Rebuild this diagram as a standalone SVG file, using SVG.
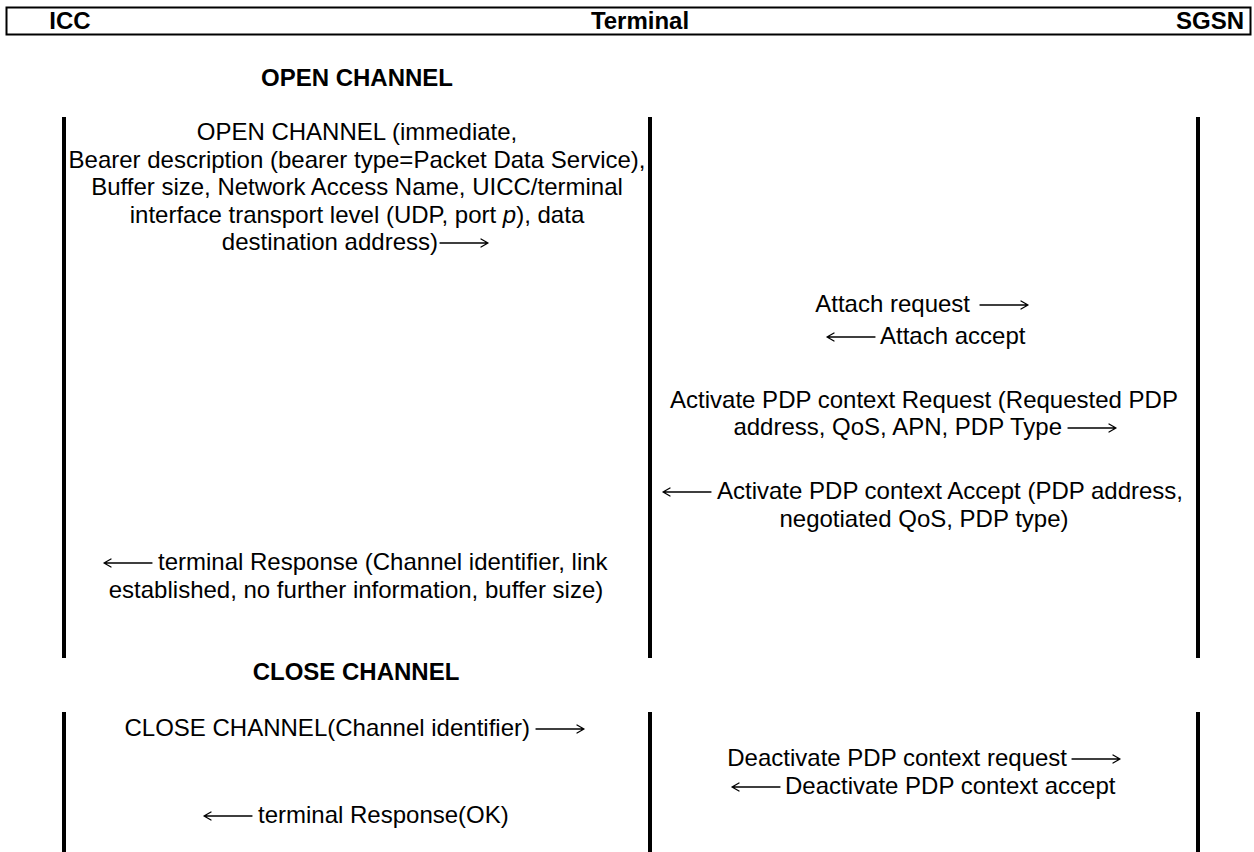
<svg xmlns="http://www.w3.org/2000/svg" width="1254" height="852" viewBox="0 0 1254 852">
<style>
  .hd { font-family: "Liberation Sans", Arial, sans-serif; font-weight: bold; font-size: 24px; fill: #000; text-anchor: middle; }
  .t { font-family: "Liberation Sans", Arial, sans-serif; font-size: 24px; fill: #000; }
  .c { text-anchor: middle; }
  .s { text-anchor: start; }
  .e { text-anchor: end; }
  .life { stroke: #000; stroke-width: 4; fill: none; }
  .arr { stroke: #000; stroke-width: 1.3; fill: none; stroke-linecap: round; stroke-linejoin: round; }
</style>
<rect width="1254" height="852" fill="#fff"/>

<g id="header">
  <rect x="6.5" y="7.5" width="1244" height="27" fill="none" stroke="#000" stroke-width="2"/>
  <text class="hd" x="70" y="29">ICC</text>
  <text class="hd" x="640" y="29">Terminal</text>
  <text class="hd" x="1210" y="29">SGSN</text>
</g>

<g id="lifeline-icc">
  <line class="life" x1="64" y1="117" x2="64" y2="658"/>
  <line class="life" x1="64" y1="712" x2="64" y2="852"/>
</g>
<g id="lifeline-terminal">
  <line class="life" x1="650" y1="117" x2="650" y2="658"/>
  <line class="life" x1="650" y1="712" x2="650" y2="852"/>
</g>
<g id="lifeline-sgsn">
  <line class="life" x1="1198" y1="117" x2="1198" y2="658"/>
  <line class="life" x1="1198" y1="712" x2="1198" y2="852"/>
</g>

<g id="section-open">
  <text class="hd" x="357" y="86">OPEN CHANNEL</text>
</g>
<g id="section-close">
  <text class="hd" x="356" y="680">CLOSE CHANNEL</text>
</g>

<g id="msg-open-channel">
  <text class="t c" x="357" y="140">OPEN CHANNEL (immediate,</text>
  <text class="t c" x="357" y="168">Bearer description (bearer type=Packet Data Service),</text>
  <text class="t c" x="357" y="195">Buffer size, Network Access Name, UICC/terminal</text>
  <text class="t c" x="357" y="223">interface transport level (UDP, port <tspan font-style="italic">p</tspan>), data</text>
  <text class="t e" x="438" y="250">destination address)</text>
</g>
<g id="msg-attach-request">
  <text class="t e" x="970" y="312">Attach request</text>
</g>
<g id="msg-attach-accept">
  <text class="t s" x="880" y="344">Attach accept</text>
</g>
<g id="msg-activate-request">
  <text class="t c" x="924" y="408">Activate PDP context Request (Requested PDP</text>
  <text class="t e" x="1062" y="435">address, QoS, APN, PDP Type</text>
</g>
<g id="msg-activate-accept">
  <text class="t s" x="717" y="499">Activate PDP context Accept (PDP address,</text>
  <text class="t c" x="924" y="527">negotiated QoS, PDP type)</text>
</g>
<g id="msg-terminal-response">
  <text class="t s" x="158" y="570">terminal Response (Channel identifier, link</text>
  <text class="t c" x="356" y="598">established, no further information, buffer size)</text>
</g>
<g id="msg-close-channel">
  <text class="t e" x="530" y="736">CLOSE CHANNEL(Channel identifier)</text>
</g>
<g id="msg-deactivate-request">
  <text class="t e" x="1067" y="766">Deactivate PDP context request</text>
</g>
<g id="msg-deactivate-accept">
  <text class="t s" x="785" y="794">Deactivate PDP context accept</text>
</g>
<g id="msg-terminal-response-ok">
  <text class="t s" x="258" y="823">terminal Response(OK)</text>
</g>

<g id="connectors">
  <path class="arr" d="M440 243 H488 M481 239 L488 243 L481 247"/>
  <path class="arr" d="M980 305 H1028 M1021 301 L1028 305 L1021 309"/>
  <path class="arr" d="M875 337 H827 M834 333 L827 337 L834 341"/>
  <path class="arr" d="M1068 428 H1116 M1109 424 L1116 428 L1109 432"/>
  <path class="arr" d="M711 492 H663 M670 488 L663 492 L670 496"/>
  <path class="arr" d="M152 563 H104 M111 559 L104 563 L111 567"/>
  <path class="arr" d="M536 729 H584 M577 725 L584 729 L577 733"/>
  <path class="arr" d="M1072 759 H1120 M1113 755 L1120 759 L1113 763"/>
  <path class="arr" d="M780 787 H732 M739 783 L732 787 L739 791"/>
  <path class="arr" d="M252 816 H204 M211 812 L204 816 L211 820"/>
</g>
</svg>
